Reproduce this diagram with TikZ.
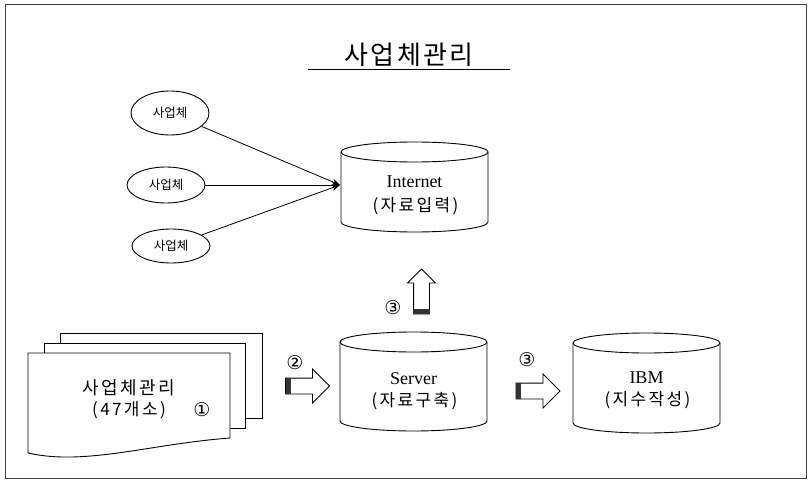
\documentclass[tikz,border=0pt]{standalone}
\usepackage{fontspec}
\setmainfont{Liberation Serif}
\newfontfamily\kr{Noto Sans CJK KR}
\newfontfamily\krs[LetterSpace=14]{Noto Sans CJK KR}
\newfontfamily\krt[LetterSpace=9]{Noto Sans CJK KR}
\newfontfamily\symfont{DejaVu Sans}
\usetikzlibrary{shapes.geometric,shapes.arrows,arrows.meta}
\newcommand\drumshape[3]{%
  \draw[cylfill] (#1,#2) -- (#1,#3) arc[start angle=180,end angle=360,x radius=73.5pt,y radius=10pt] -- ++(0,{#2-#3}) arc[start angle=0,end angle=180,x radius=73.5pt,y radius=10pt] -- cycle;
  \draw[cylfill] (#1,#2) arc[start angle=180,end angle=360,x radius=73.5pt,y radius=10pt];
}
\begin{document}
\begin{tikzpicture}[x=1pt,y=1pt,
  line width=0.9pt,
  ent/.style={draw, ellipse, minimum width=78pt, inner sep=0pt, font=\kr\fontsize{12.5}{14}\selectfont},
  cyltext/.style={inner sep=0pt, font=\fontsize{18}{22}\selectfont},
  krtext/.style={inner sep=0pt, font=\krs\fontsize{17}{20}\selectfont},
  blockarrow/.style={draw, fill=white, single arrow, single arrow head extend=9pt, single arrow tip angle=90, inner xsep=0pt, inner ysep=7.5pt, line width=0.8pt},
  hatch/.style={line width=0.35pt, black!80},
  num/.style={font=\symfont\fontsize{19}{19}\selectfont, inner sep=0pt},
  cylfill/.style={draw, fill=white, line width=0.9pt},
  conn/.style={-{Stealth[length=8pt,width=6pt]}, line width=0.8pt}
]
\useasboundingbox (0,0) rectangle (811,480);
\draw[line width=1pt, black!75] (5,1.5) rectangle (806,475);

% title
\node[font=\krt\fontsize{26}{30}\selectfont, inner sep=0pt] (title) at (409,425) {사업체관리};
\coordinate (ulA) at (308,410);
\coordinate (ulB) at (510,410);
\draw[line width=1pt] (ulA) -- (ulB);

% companies
\node[ent, minimum height=44pt] (e1) at (170,367) {사업체};
\node[ent, minimum height=36pt] (e2) at (166,295) {사업체};
\node[ent, minimum height=34pt] (e3) at (171,234) {사업체};

% Internet
\drumshape{341}{328}{258}
\node[cyltext] (inet) at (414.5,298) {Internet};
\node[krtext] (inetk) at (415.5,274) {(자료입력)};
\coordinate (inetin) at (340,295);
\draw[conn] (e1) -- (inetin);
\draw[conn] (e2) -- (inetin);
\draw[conn] (e3) -- (inetin);

% Server
\drumshape{340}{138}{59}
\node[cyltext] (srv) at (413.5,101) {Server};
\node[krtext] (srvk) at (414.5,79) {(자료구축)};

% IBM
\drumshape{573}{137}{57}
\node[cyltext] (ibm) at (646.5,102) {IBM};
\node[krtext] (ibmk) at (647.5,80) {(지수작성)};

% documents
\draw[fill=white] (60,147) rectangle (262,62);
\draw[fill=white] (44,137) rectangle (245,52);
\draw[fill=white] (28,127) -- (230,127) -- (230,42) .. controls (150,36) and (85,14) .. (28,27) -- cycle;
\node[krtext, font=\krs\fontsize{18}{20}\selectfont] (doc) at (129,92) {사업체관리};
\node[krtext] (dock) at (129,70) {(47개소)};
\node[num] (n1) at (202,70) {①};

% block arrows
\node[blockarrow, minimum height=44pt] (a2) at (303.5,94) {};
\foreach \i in {0.8,1.8,2.8,3.8,4.8}
  \draw[hatch] ([xshift=\i pt]a2.before tail) -- ([xshift=\i pt]a2.after tail);
\node[num] (n2) at (295,117) {②};

\node[blockarrow, minimum height=44pt] (a3) at (534,89) {};
\foreach \i in {0.8,1.8,2.8,3.8,4.8}
  \draw[hatch] ([xshift=\i pt]a3.before tail) -- ([xshift=\i pt]a3.after tail);
\node[num] (n3) at (527,120) {③};

\node[blockarrow, minimum height=45pt, single arrow head extend=6pt, rotate=90] (a3u) at (421.5,184.5) {};
\foreach \i in {0.8,1.8,2.8,3.8,4.8}
  \draw[hatch] ([yshift=\i pt]a3u.before tail) -- ([yshift=\i pt]a3u.after tail);
\node[num] (n3u) at (393,172) {③};
\end{tikzpicture}
\end{document}
